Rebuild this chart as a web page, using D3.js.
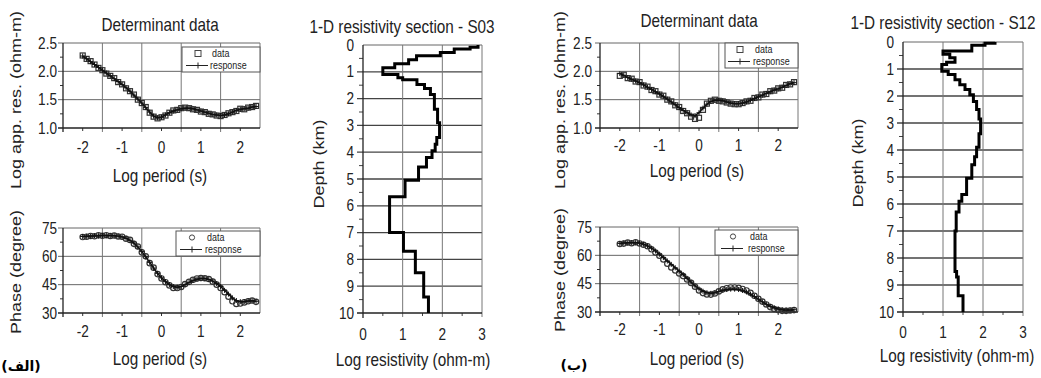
<!DOCTYPE html>
<html>
<head>
<meta charset="utf-8">
<script src="https://cdn.jsdelivr.net/npm/d3@7"></script>
<style>
  body { margin: 0; background: #fff; }
  svg { display: block; }
</style>
</head>
<body>
<svg id="svg"></svg>
<script>
// log10 period (s), shared by all four sounding curves
const periods = [-2.0, -1.9, -1.8, -1.7, -1.6, -1.5, -1.4, -1.3, -1.2, -1.1,
  -1.0, -0.9, -0.8, -0.7, -0.6, -0.5, -0.4, -0.3, -0.2, -0.1,
  0.0, 0.1, 0.2, 0.3, 0.4, 0.5, 0.6, 0.7, 0.8, 0.9,
  1.0, 1.1, 1.2, 1.3, 1.4, 1.5, 1.6, 1.7, 1.8, 1.9,
  2.0, 2.1, 2.2, 2.3, 2.4];

// station S03 (الف)
const appResDataA = [2.28, 2.22, 2.18, 2.12, 2.06, 2.02, 1.96, 1.92, 1.88, 1.81,
  1.77, 1.70, 1.65, 1.59, 1.50, 1.44, 1.37, 1.27, 1.20, 1.17,
  1.19, 1.22, 1.27, 1.31, 1.32, 1.35, 1.36, 1.35, 1.33, 1.32,
  1.29, 1.28, 1.25, 1.24, 1.22, 1.21, 1.23, 1.26, 1.28, 1.30,
  1.34, 1.33, 1.36, 1.37, 1.39];
const appResRespA = [2.27, 2.22, 2.17, 2.12, 2.07, 2.02, 1.97, 1.92, 1.87, 1.82,
  1.77, 1.71, 1.65, 1.58, 1.51, 1.44, 1.36, 1.28, 1.21, 1.18,
  1.19, 1.23, 1.27, 1.30, 1.32, 1.34, 1.35, 1.35, 1.34, 1.32,
  1.30, 1.28, 1.26, 1.24, 1.23, 1.22, 1.23, 1.25, 1.28, 1.31,
  1.33, 1.34, 1.35, 1.37, 1.38];
const phaseDataA = [70.2, 70.4, 70.8, 70.6, 71.1, 70.9, 71.2, 70.8, 71.0, 70.5,
  70.4, 69.3, 68.7, 66.6, 65.2, 62.1, 60.0, 56.4, 54.0, 50.6,
  48.3, 46.3, 44.6, 43.3, 43.2, 43.8, 45.3, 46.5, 47.6, 48.3,
  48.5, 48.4, 48.0, 46.6, 45.0, 43.2, 41.0, 38.6, 36.2, 34.8,
  35.0, 35.6, 36.2, 36.6, 35.9];
const phaseRespA = [70.5, 70.6, 70.7, 70.8, 70.9, 71.0, 71.0, 71.0, 70.9, 70.7,
  70.3, 69.6, 68.5, 67.0, 65.0, 62.5, 59.8, 56.8, 53.8, 51.0,
  48.6, 46.6, 45.0, 44.0, 43.6, 44.0, 45.0, 46.2, 47.2, 47.9,
  48.2, 48.2, 47.8, 46.9, 45.6, 44.0, 42.0, 40.0, 38.0, 36.6,
  36.0, 36.0, 36.4, 36.5, 36.2];

// station S12 (ب)
const appResDataB = [1.92, 1.94, 1.88, 1.87, 1.82, 1.81, 1.75, 1.73, 1.67, 1.65,
  1.59, 1.57, 1.50, 1.47, 1.40, 1.37, 1.30, 1.26, 1.20, 1.16,
  1.18, 1.32, 1.43, 1.48, 1.50, 1.48, 1.47, 1.45, 1.43, 1.42,
  1.42, 1.44, 1.47, 1.48, 1.53, 1.54, 1.59, 1.60, 1.65, 1.66,
  1.70, 1.71, 1.76, 1.77, 1.81];
const appResRespB = [1.96, 1.93, 1.89, 1.86, 1.83, 1.80, 1.76, 1.72, 1.68, 1.64,
  1.60, 1.56, 1.51, 1.46, 1.41, 1.36, 1.31, 1.27, 1.23, 1.22,
  1.27, 1.35, 1.42, 1.47, 1.49, 1.49, 1.48, 1.46, 1.44, 1.43,
  1.43, 1.44, 1.46, 1.49, 1.52, 1.55, 1.58, 1.61, 1.64, 1.67,
  1.69, 1.72, 1.75, 1.78, 1.80];
const phaseDataB = [66.0, 66.2, 66.8, 66.4, 66.9, 66.3, 65.6, 64.8, 63.2, 61.5,
  59.8, 57.8, 55.6, 53.6, 52.0, 50.4, 49.0, 47.2, 45.4, 43.4,
  41.4, 40.0, 39.3, 39.2, 39.8, 40.9, 42.0, 42.6, 43.0, 43.0,
  42.8, 42.2, 41.4, 40.2, 38.6, 37.0, 35.5, 34.0, 32.6, 31.6,
  31.0, 30.6, 30.6, 30.8, 31.0];
const phaseRespB = [66.3, 66.5, 66.6, 66.7, 66.7, 66.5, 65.9, 65.0, 63.8, 62.3,
  60.6, 58.8, 57.0, 55.2, 53.4, 51.6, 49.8, 47.8, 45.8, 43.8,
  42.2, 41.0, 40.2, 39.9, 40.2, 40.9, 41.5, 41.9, 42.1, 42.1,
  41.9, 41.4, 40.6, 39.5, 38.2, 36.8, 35.4, 34.1, 33.0, 32.2,
  31.6, 31.2, 31.0, 31.0, 31.2];

// 1-D models: layer boundaries (km) and log resistivity of each layer
const depthsS03 = [0, 0.08, 0.15, 0.28, 0.40, 0.55, 0.70, 0.85, 1.10, 1.22, 1.30, 1.47, 1.62, 1.85,
  2.40, 2.90, 3.45, 3.70, 3.95, 4.20, 4.55, 5.05, 5.66, 7.00, 7.70, 8.50, 9.40, 10.0];
const logResS03 = [2.9, 2.7, 2.3, 1.95, 1.35, 1.15, 0.8, 0.5, 0.88, 1.0, 1.36, 1.55, 1.7,
  1.8, 1.88, 1.93, 1.86, 1.82, 1.74, 1.6, 1.4, 1.06, 0.67, 1.02, 1.32, 1.53, 1.65];
const depthsS12 = [0, 0.05, 0.12, 0.33, 0.45, 0.58, 0.75, 0.83, 1.08, 1.20, 1.40, 1.58, 1.76, 1.95,
  2.20, 2.50, 2.85, 3.40, 3.90, 4.25, 4.55, 5.05, 5.65, 5.90, 6.30, 7.00, 8.50, 8.70, 9.40, 10.0];
const logResS12 = [2.3, 2.05, 1.72, 1.0, 1.17, 1.3, 1.09, 0.97, 1.13, 1.3, 1.42, 1.55, 1.67,
  1.76, 1.84, 1.9, 1.94, 1.9, 1.84, 1.79, 1.72, 1.59, 1.47, 1.4, 1.33, 1.3, 1.34, 1.38, 1.5];

// ticks
const periodTicks = [-2, -1, 0, 1, 2];
const periodGrid = [-1.5, -0.5, 0.5, 1.5];
const appResTicks = [1.0, 1.5, 2.0, 2.5];
const phaseTicks = [30, 45, 60, 75];
const depthTicks = [0, 1, 2, 3, 4, 5, 6, 7, 8, 9, 10];
const resTicks = [0, 1, 2, 3];

const width = 1041, height = 378;
const squeeze = 0.85; // the scanned figure is narrower than its fonts

const svg = d3.select("#svg")
  .attr("width", width)
  .attr("height", height)
  .attr("viewBox", [0, 0, width, height])
  .attr("font-family", "'Liberation Sans', Arial, sans-serif");

function text(x, y, str, size, anchor = "middle", rot = 0) {
  return svg.append("text")
    .attr("transform", `translate(${x},${y}) scale(${squeeze},1)` + (rot ? ` rotate(${rot})` : ""))
    .attr("text-anchor", anchor)
    .attr("font-size", size)
    .attr("fill", "#222")
    .text(str);
}

function seg(g, x1, y1, x2, y2, color, w) {
  g.append("line")
    .attr("x1", x1).attr("y1", y1).attr("x2", x2).attr("y2", y2)
    .attr("stroke", color).attr("stroke-width", w);
}

function sounding(o) {
  const x = d3.scaleLinear([-2.5, 2.5], [o.x0, o.x1]);
  const y = d3.scaleLinear(o.domain, [o.y1, o.y0]);
  const g = svg.append("g");

  // grid + frame
  o.ticks.slice(1).forEach(t => seg(g, o.x0 - 5, y(t), o.x1, y(t), "#666", 1));
  periodGrid.forEach(t => seg(g, x(t), o.y0, x(t), o.y1 + 4, "#777", 1));
  seg(g, o.x1, o.y0, o.x1, o.y1, "#777", 1);
  const step = o.ticks[1] - o.ticks[0];
  o.ticks.slice(1).forEach(t => seg(g, o.x0 - 3, y(t - step / 2), o.x0, y(t - step / 2), "#333", 1));
  periodTicks.forEach(t => seg(g, x(t), o.y1, x(t), o.y1 + 3, "#333", 1));
  seg(g, o.x0, o.y0, o.x0, o.y1 + 4, "#222", 1.3);
  seg(g, o.x0 - 5, o.y1, o.x1, o.y1, "#222", 1.3);

  // data markers
  const pts = periods.map((p, i) => [p, o.data[i]]);
  if (o.marker === "square") {
    g.selectAll(null).data(pts).join("rect")
      .attr("x", d => x(d[0]) - 2.5).attr("y", d => y(d[1]) - 2.5)
      .attr("width", 5).attr("height", 5)
      .attr("fill", "none").attr("stroke", "#333").attr("stroke-width", 1.2);
  } else {
    g.selectAll(null).data(pts).join("circle")
      .attr("cx", d => x(d[0])).attr("cy", d => y(d[1])).attr("r", 2.7)
      .attr("fill", "none").attr("stroke", "#333").attr("stroke-width", 1.2);
  }

  // model response with + markers
  const resp = periods.map((p, i) => [p, o.resp[i]]);
  g.append("path")
    .datum(resp)
    .attr("fill", "none")
    .attr("stroke", "#111")
    .attr("stroke-width", 1.5)
    .attr("d", d3.line().x(d => x(d[0])).y(d => y(d[1])));
  g.selectAll(null).data(resp).join("path")
    .attr("d", d => `M${x(d[0])},${y(d[1]) - 2.5}v5M${x(d[0]) - 2.5},${y(d[1])}h5`)
    .attr("stroke", "#111").attr("stroke-width", 1);

  // tick labels
  periodTicks.forEach(t => text(x(t), o.xTickY, t, 16));
  o.ticks.forEach(t => text(o.yTickX, y(t) + 5.5, o.fmt(t), 16, "end"));

  // legend
  const L = o.legend;
  g.append("rect")
    .attr("x", L.x).attr("y", L.y).attr("width", o.x1 - L.x).attr("height", L.h)
    .attr("fill", "#fff").attr("stroke", "#555").attr("stroke-width", 1);
  const r1 = L.y + 6.5, r2 = L.y + L.h - 6.5;
  if (o.marker === "square") {
    g.append("rect").attr("x", L.mx - 3).attr("y", r1 - 3).attr("width", 6).attr("height", 6)
      .attr("fill", "none").attr("stroke", "#444");
  } else {
    g.append("circle").attr("cx", L.mx).attr("cy", r1).attr("r", 2.6)
      .attr("fill", "none").attr("stroke", "#444");
  }
  seg(g, L.mx - 12, r2, L.mx + 10, r2, "#222", 1);
  seg(g, L.mx, r2 - 3, L.mx, r2 + 3, "#222", 1);
  text(L.tx, r1 + 3.5, "data", 10.5, "start");
  text(L.tx - 2, r2 + 3.5, "response", 10.5, "start");
}

function profile(o) {
  const x = d3.scaleLinear([0, 3], [o.x0, o.x1]);
  const y = d3.scaleLinear([0, 10], [o.y0, o.y1]);
  const g = svg.append("g");

  depthTicks.slice(1, -1).forEach(t => seg(g, o.x0 - 6, y(t), o.x1, y(t), "#444", 1.3));
  seg(g, o.x0, o.y0, o.x1, o.y0, "#666", 1);
  [1, 2].forEach(t => seg(g, x(t), o.y0, x(t), o.y1 + 4, "#777", 1));
  seg(g, o.x1, o.y0, o.x1, o.y1 + 4, "#777", 1);
  depthTicks.slice(1).forEach(t => seg(g, o.x0 - 4, y(t - 0.5), o.x0, y(t - 0.5), "#444", 1));
  [0.5, 1.5, 2.5].forEach(t => seg(g, x(t), o.y1, x(t), o.y1 + 3, "#444", 1));
  seg(g, o.x0, o.y0, o.x0, o.y1 + 5, "#222", 1.3);
  seg(g, o.x0 - 6, o.y1, o.x1, o.y1, "#222", 1.3);

  const pts = o.values.flatMap((v, i) => [[v, o.depths[i]], [v, o.depths[i + 1]]]);
  g.append("path")
    .datum(pts)
    .attr("fill", "none")
    .attr("stroke", "#000")
    .attr("stroke-width", 3)
    .attr("stroke-linejoin", "miter")
    .attr("d", d3.line().x(d => x(d[0])).y(d => y(d[1])));

  depthTicks.forEach(t => text(o.yTickX, y(t) + 5.5, t, 16, "end"));
  resTicks.forEach(t => text(x(t), o.xTickY, t, 16));
}

function panelTag(x, y, str) {
  svg.append("text")
    .attr("x", x).attr("y", y)
    .attr("text-anchor", "middle")
    .attr("direction", "ltr")
    .attr("font-family", "'DejaVu Sans', sans-serif")
    .attr("font-weight", "bold")
    .attr("font-size", 14)
    .attr("fill", "#000")
    .text(str);
}

// ---- left figure (S03)
sounding({ x0: 63, x1: 260, y0: 43, y1: 128, domain: [1.0, 2.5], ticks: appResTicks,
  fmt: d3.format(".1f"), data: appResDataA, resp: appResRespA, marker: "square",
  xTickY: 153, yTickX: 57, legend: { x: 182, y: 47, h: 25, mx: 198, tx: 212 } });
sounding({ x0: 63, x1: 260, y0: 228, y1: 313, domain: [30, 75], ticks: phaseTicks,
  fmt: d3.format("d"), data: phaseDataA, resp: phaseRespA, marker: "circle",
  xTickY: 337, yTickX: 57, legend: { x: 176, y: 231, h: 25, mx: 192, tx: 207 } });
profile({ x0: 363, x1: 482, y0: 45, y1: 313, depths: depthsS03, values: logResS03,
  yTickX: 354, xTickY: 340 });

text(160, 31, "Determinant data", 18);
text(21, 100, "Log app. res. (ohm-m)", 18, "middle", -90);
text(160, 182, "Log period (s)", 18);
text(21, 272, "Phase (degree)", 18, "middle", -90);
text(160, 365, "Log period (s)", 18);
text(402, 33, "1-D resistivity section - S03", 18);
text(324, 164, "Depth (km)", 18, "middle", -90);
text(413, 366, "Log resistivity (ohm-m)", 18);
panelTag(21, 371, "(الف)");

// ---- right figure (S12)
sounding({ x0: 600, x1: 798, y0: 43, y1: 128, domain: [1.0, 2.5], ticks: appResTicks,
  fmt: d3.format(".1f"), data: appResDataB, resp: appResRespB, marker: "square",
  xTickY: 151, yTickX: 592, legend: { x: 725, y: 43, h: 25, mx: 740, tx: 755 } });
sounding({ x0: 600, x1: 798, y0: 227, y1: 312, domain: [30, 75], ticks: phaseTicks,
  fmt: d3.format("d"), data: phaseDataB, resp: phaseRespB, marker: "circle",
  xTickY: 335, yTickX: 592, legend: { x: 715, y: 230, h: 25, mx: 733, tx: 750 } });
profile({ x0: 903, x1: 1023, y0: 42, y1: 312, depths: depthsS12, values: logResS12,
  yTickX: 894, xTickY: 338 });

text(699, 27, "Determinant data", 18);
text(565, 100, "Log app. res. (ohm-m)", 18, "middle", -90);
text(697, 177, "Log period (s)", 18);
text(565, 270, "Phase (degree)", 18, "middle", -90);
text(697, 365, "Log period (s)", 18);
text(943, 29, "1-D resistivity section - S12", 18);
text(863, 163, "Depth (km)", 18, "middle", -90);
text(957, 362, "Log resistivity (ohm-m)", 18);
panelTag(574, 370, "(ب)");
</script>
</body>
</html>
